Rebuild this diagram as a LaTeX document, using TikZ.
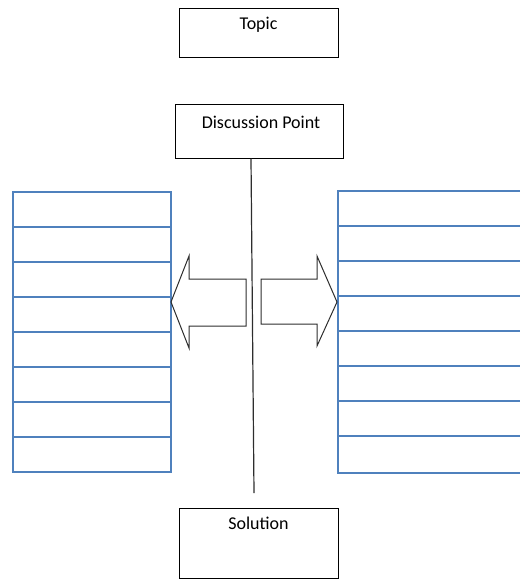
\documentclass[tikz,border=0pt]{standalone}
\usepackage{fontspec}
\setmainfont{Carlito}
\usepackage{tikz}

\definecolor{tableblue}{RGB}{79,129,189}
\definecolor{arrowgray}{RGB}{45,45,45}

\tikzset{
    box/.style={draw, line width=1pt, minimum width=#1, inner sep=0pt},
    boxtext/.style={anchor=base, inner sep=0pt, font=\fontsize{18}{22}\selectfont},
    rowline/.style={draw=tableblue, line width=1.1pt},
    fatarrow/.style={draw=arrowgray, line width=1pt, line join=miter}
}

\begin{document}
\begin{tikzpicture}[x=1pt, y=-1pt]
    \useasboundingbox (0,0) rectangle (520,579);

    % Boxes
    \node[box=159pt, minimum height=49pt] (topic) at (258.5,32.5) {};
    \node[box=168pt, minimum height=54pt] (point) at (259,131) {};
    \node[box=159pt, minimum height=70pt] (solution) at (258.5,543) {};

    % Box texts
    \node[boxtext] (topictext) at ([yshift=-22pt]topic.north) {Topic};
    \node[boxtext] (pointtext) at ([xshift=2pt, yshift=-25pt]point.north) {Discussion Point};
    \node[boxtext] (solutiontext) at ([yshift=-22pt]solution.north) {Solution};

    % Middle line
    \coordinate (lineend) at (254,493);
    \draw[line width=1.2pt, arrowgray] ([xshift=-8pt]point.south) -- (lineend);

    % Left table
    \draw[rowline] (13,192) rectangle (171,472);
    \foreach \y in {227,262,...,437}
        \draw[rowline] (13,\y) -- (171,\y);

    % Right table
    \draw[rowline] (525,191) -- (338,191) -- (338,473) -- (525,473);
    \foreach \y in {226,261,...,436}
        \draw[rowline] (338,\y) -- (525,\y);

    % Arrows
    \draw[fatarrow] (246,279) -- (189,279) -- (189,256) -- (171,302)
        -- (189,348) -- (189,326) -- (246,326) -- cycle;
    \draw[fatarrow] (261,279) -- (317,279) -- (317,256) -- (337,302)
        -- (317,346) -- (317,324) -- (261,324) -- cycle;
\end{tikzpicture}
\end{document}
